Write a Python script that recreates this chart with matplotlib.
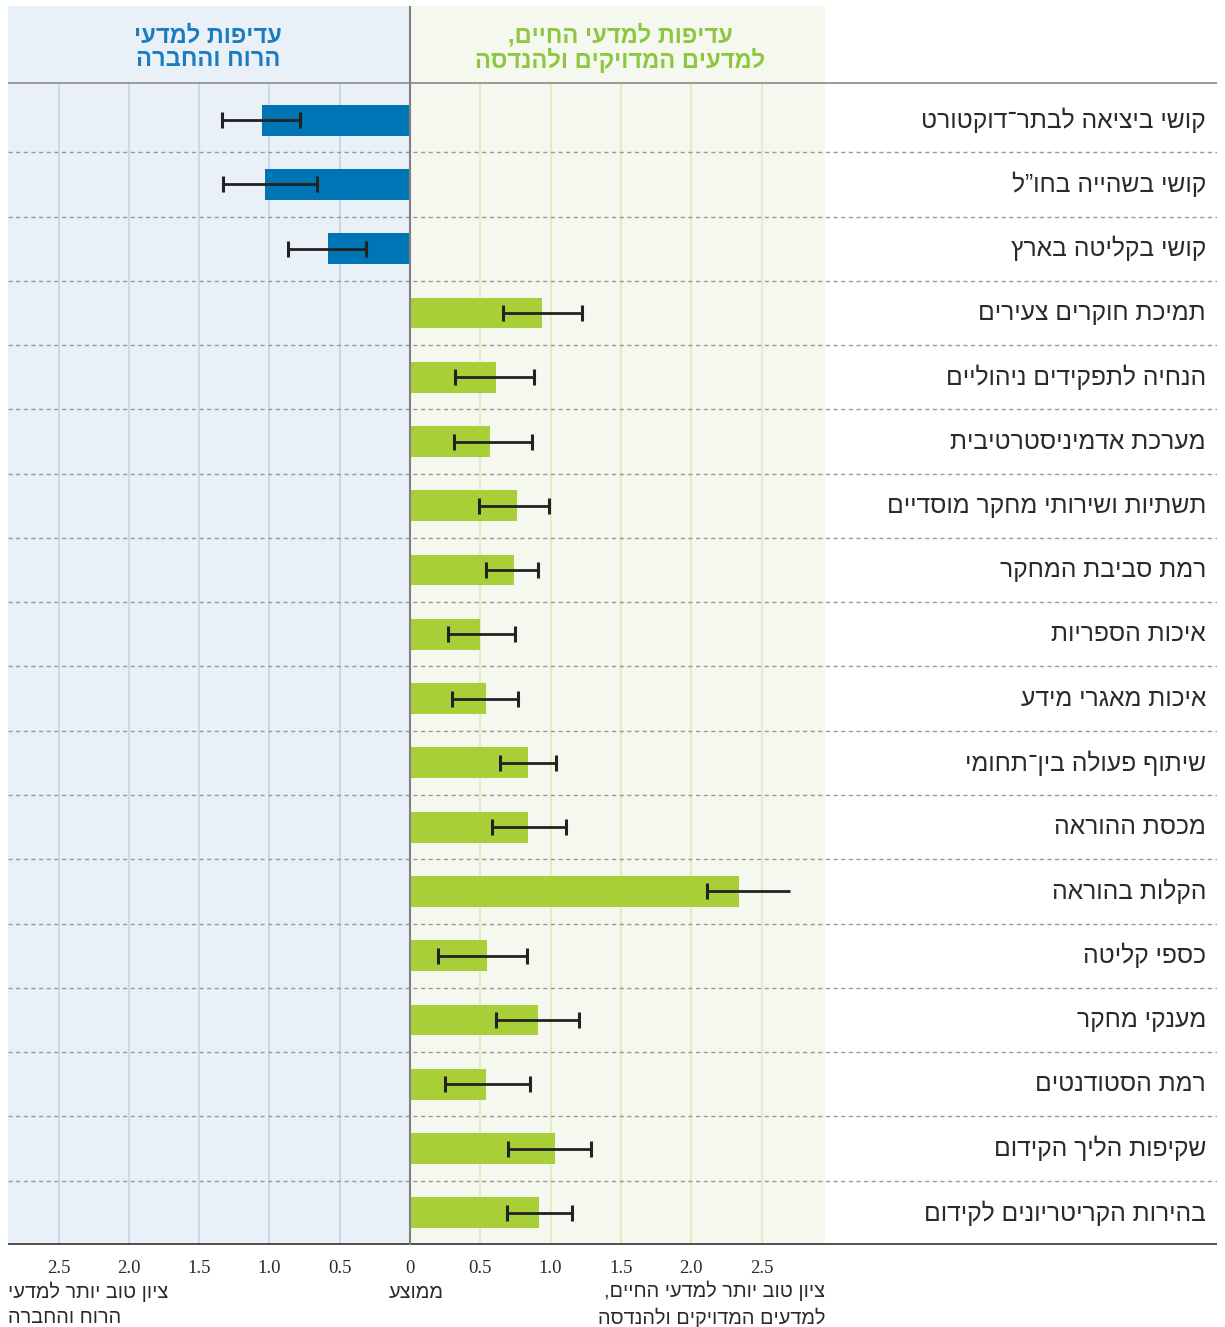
import matplotlib
matplotlib.use("Agg")
import matplotlib.pyplot as plt

plt.rcParams["font.family"] = ["Liberation Sans", "DejaVu Sans"]

# matplotlib has no bidi support, so Hebrew strings are reversed for display
def rtl(s):
    return "\n".join(line[::-1] for line in s.split("\n"))


labels = [
    "קושי ביציאה לבתר־דוקטורט",
    "קושי בשהייה בחו”ל",
    "קושי בקליטה בארץ",
    "תמיכת חוקרים צעירים",
    "הנחיה לתפקידים ניהוליים",
    "מערכת אדמיניסטרטיבית",
    "תשתיות ושירותי מחקר מוסדיים",
    "רמת סביבת המחקר",
    "איכות הספריות",
    "איכות מאגרי מידע",
    "שיתוף פעולה בין־תחומי",
    "מכסת ההוראה",
    "הקלות בהוראה",
    "כספי קליטה",
    "מענקי מחקר",
    "רמת הסטודנטים",
    "שקיפות הליך הקידום",
    "בהירות הקריטריונים לקידום",
]
# negative = preference for humanities & social sciences
means = [-1.05, -1.03, -0.58, 0.94, 0.61, 0.57, 0.76, 0.74, 0.50, 0.54,
         0.84, 0.84, 2.34, 0.55, 0.91, 0.54, 1.03, 0.92]
ci_low = [-1.34, -1.33, -0.87, 0.66, 0.32, 0.31, 0.49, 0.54, 0.27, 0.30,
          0.64, 0.58, 2.11, 0.20, 0.61, 0.25, 0.70, 0.69]
ci_high = [-0.78, -0.66, -0.31, 1.22, 0.88, 0.87, 0.99, 0.91, 0.75, 0.77,
           1.04, 1.11, 2.70, 0.83, 1.20, 0.85, 1.29, 1.15]
# the upper whisker of "הקלות בהוראה" is drawn without an end cap
upper_cap = [True] * 12 + [False] + [True] * 5

tick_vals = [-2.5, -2.0, -1.5, -1.0, -0.5, 0, 0.5, 1.0, 1.5, 2.0, 2.5]
tick_labels = ["2.5", "2.0", "1.5", "1.0", "0.5", "0", "0.5", "1.0", "1.5", "2.0", "2.5"]

header_left = "עדיפות למדעי\nהרוח והחברה"
header_right = "עדיפות למדעי החיים,\nלמדעים המדויקים ולהנדסה"
foot_left = "ציון טוב יותר למדעי\nהרוח והחברה"
foot_mid = "ממוצע"
foot_right = "ציון טוב יותר למדעי החיים,\nלמדעים המדויקים ולהנדסה"

BLUE = "#0075b5"
GREEN = "#a8cf38"
BLUE_BG = "#e9f0f8"
GREEN_BG = "#f5f8ee"
BLUE_GRID = "#c8d9ec"
GREEN_GRID = "#e2edc6"
HEAD_GREEN = "#8dc63f"
HEAD_BLUE = "#1b7cc0"
TEXT = "#2a2a2a"

# pixel geometry of the reference
W, H = 1225, 1327
PX0, PXU = 410.0, 140.6          # x pixel of zero, pixels per unit
ROW = 64.3
TOP, ROWS_TOP, BOTTOM = 6, 88, 1245
n = len(labels)

fig = plt.figure(figsize=(W / 100, H / 100), dpi=100)
ax = fig.add_axes([8 / W, 1 - BOTTOM / H, 1209 / W, (BOTTOM - TOP) / H])

def ypx(px):
    return -0.5 + (px - ROWS_TOP) / ROW

xmin = (8 - PX0) / PXU
xpanel = (825 - PX0) / PXU
xmax = (1217 - PX0) / PXU
ytop = ypx(TOP)
ax.set_xlim(xmin, xmax)
ax.set_ylim(n - 0.5, ytop)

ax.axvspan(xmin, 0, color=BLUE_BG, lw=0, zorder=0)
ax.axvspan(0, xpanel, color=GREEN_BG, lw=0, zorder=0)

for v in tick_vals:
    if v < 0:
        ax.vlines(v, ypx(83), n - 0.5, color=BLUE_GRID, lw=1.5, zorder=1)
    elif v > 0:
        ax.vlines(v, ypx(83), n - 0.5, color=GREEN_GRID, lw=1.5, zorder=1)

for i in range(n - 1):
    ax.axhline(i + 0.5, color="#999999", lw=1, ls=(0, (3, 2.5)), zorder=1)
ax.axhline(ypx(83), color="#8a8a8a", lw=1.2, zorder=3)
ax.axhline(ypx(1244), color="#333333", lw=1.2, zorder=3)
ax.axvline(0, color="#808080", lw=1.5, zorder=4)

ys = list(range(n))
colors = [BLUE if m < 0 else GREEN for m in means]
ax.barh(ys, means, height=0.48, color=colors, zorder=2)

ax.hlines(ys, ci_low, ci_high, color="#222222", lw=2, zorder=5)
ax.plot(ci_low, ys, ls="none", marker="|", ms=11, mew=2.2, color="#222222", zorder=5)
cap_x = [h for h, c in zip(ci_high, upper_cap) if c]
cap_y = [y for y, c in zip(ys, upper_cap) if c]
ax.plot(cap_x, cap_y, ls="none", marker="|", ms=11, mew=2.2, color="#222222", zorder=5)

for y, lab in zip(ys, labels):
    ax.text((1206 - PX0) / PXU, y, rtl(lab), ha="right", va="center",
            fontsize=17.7, color=TEXT, zorder=6)

ax.text((208 - PX0) / PXU, ypx(48), rtl(header_left), ha="center",
        va="center", fontsize=17, fontweight="bold", color=HEAD_BLUE,
        linespacing=1.02)
ax.text((620 - PX0) / PXU, ypx(48), rtl(header_right), ha="center",
        va="center", fontsize=17, fontweight="bold", color=HEAD_GREEN,
        linespacing=1.02)

ax.set_xticks(tick_vals)
ax.set_xticklabels(tick_labels, fontsize=13.5, family=["Liberation Serif", "DejaVu Serif"],
                   color=TEXT)
ax.tick_params(axis="x", length=0, pad=11)
ax.set_yticks([])
for s in ax.spines.values():
    s.set_visible(False)

fig.text(8 / W, 1 - 1304 / H, rtl(foot_left), ha="left", va="center",
         fontsize=14.3, color=TEXT, linespacing=1.4)
fig.text(416 / W, 1 - 1292 / H, rtl(foot_mid), ha="center", va="center",
         fontsize=14.3, color=TEXT)
fig.text(825 / W, 1 - 1304 / H, rtl(foot_right), ha="right", va="center",
         fontsize=14.3, color=TEXT, linespacing=1.4, multialignment="right")

fig.savefig("out.png", dpi=100, facecolor="white")
